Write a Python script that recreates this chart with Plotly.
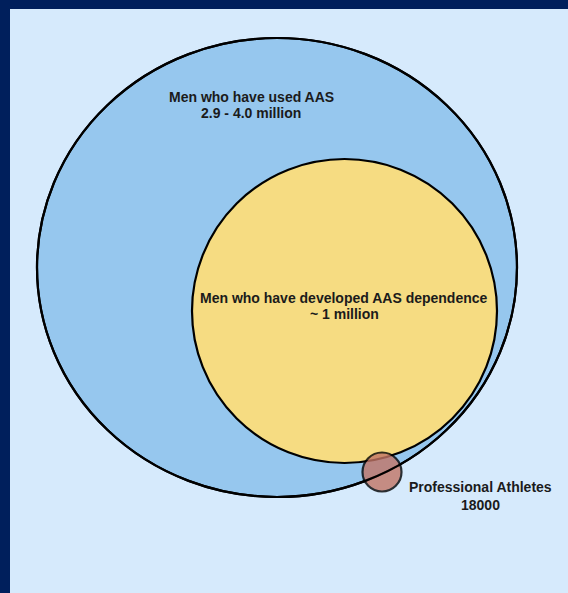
import plotly.graph_objects as go

# ---- data (labels and values shown in the diagram) ----
groups = ["Men who have used AAS",
          "Men who have developed AAS dependence",
          "Professional Athletes"]
values = ["2.9 - 4.0 million", "~ 1 million", "18000"]

# ---- geometry / style (pixel coordinates of the 568x593 canvas) ----
W, H = 568, 593
circles = [  # (x0, y0, x1, y1, fill, opacity)
    (37, 38, 517, 497, "#96c7ee", 1.0),
    (192, 159, 497, 463, "#f6dc82", 1.0),
    (362.5, 452.5, 401.5, 491.5, "#c27566", 0.8),
]
label_pos = [  # (x, y of first line, y of second line)
    (251, 97, 113),
    (344, 298, 314),
    (480, 487, 505),
]

fig = go.Figure()

shapes = []
# navy frame on top and left
shapes.append(dict(type="rect", xref="x", yref="y", x0=0, x1=W, y0=0, y1=9,
                   fillcolor="#001f5c", line=dict(width=0), layer="below"))
shapes.append(dict(type="rect", xref="x", yref="y", x0=0, x1=10, y0=0, y1=H,
                   fillcolor="#001f5c", line=dict(width=0), layer="below"))
for x0, y0, x1, y1, fill, op in circles:
    shapes.append(dict(type="circle", xref="x", yref="y", x0=x0, y0=y0, x1=x1, y1=y1,
                       fillcolor=fill, opacity=op,
                       line=dict(color="#000000", width=2.2)))
# outline of the outer ellipse drawn again so it shows through the small circle
x0, y0, x1, y1 = circles[0][:4]
shapes.append(dict(type="circle", xref="x", yref="y", x0=x0, y0=y0, x1=x1, y1=y1,
                   fillcolor="rgba(0,0,0,0)", line=dict(color="#000000", width=2.2)))

annotations = []
for (g, v), (x, y1, y2) in zip(zip(groups, values), label_pos):
    for txt, yy in ((g, y1), (v, y2)):
        annotations.append(dict(x=x, y=yy, xref="x", yref="y", text="<b>%s</b>" % txt,
                                showarrow=False, xanchor="center", yanchor="middle",
                                font=dict(family="Liberation Sans, Arial, sans-serif",
                                          size=14, color="#1b1b1b")))

fig.update_layout(
    width=W, height=H,
    margin=dict(l=0, r=0, t=0, b=0),
    paper_bgcolor="#d6eafc",
    plot_bgcolor="#d6eafc",
    showlegend=False,
    xaxis=dict(range=[0, W], visible=False, fixedrange=True),
    yaxis=dict(range=[H, 0], visible=False, fixedrange=True),
    shapes=shapes,
    annotations=annotations,
)

fig.write_html("out.html", config={"displayModeBar": False},
               post_script="document.body.style.margin='0';document.body.style.overflow='hidden';")
